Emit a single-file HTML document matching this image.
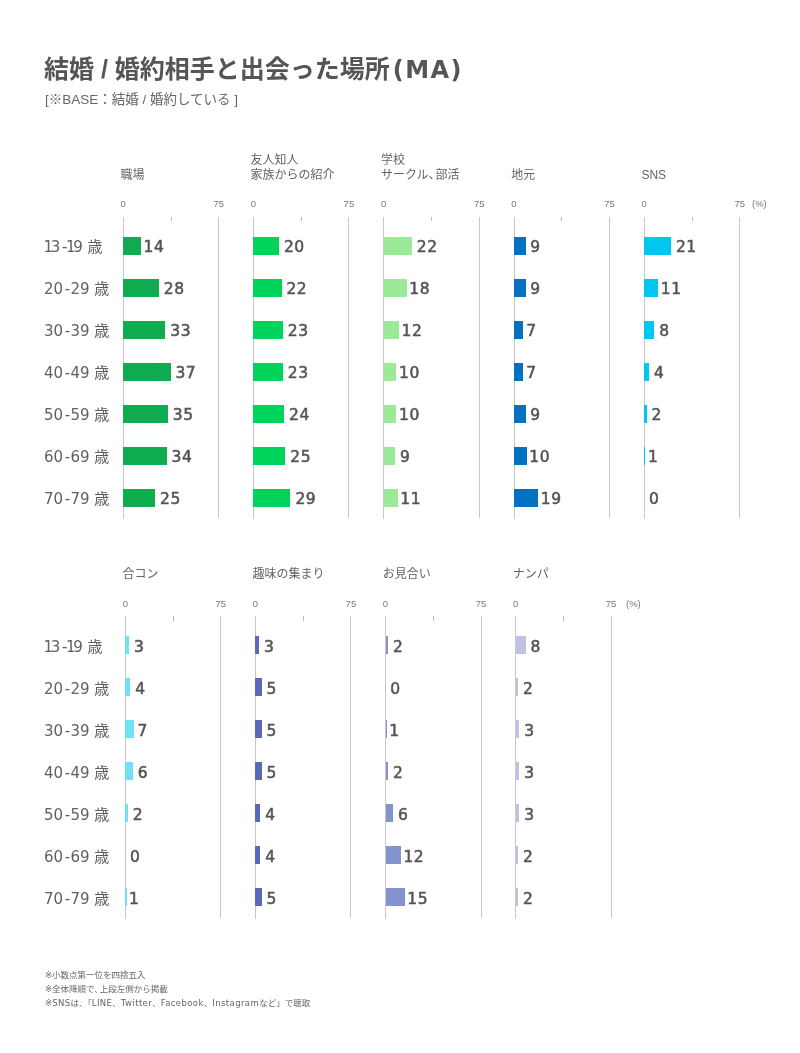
<!DOCTYPE html>
<html lang="ja"><head><meta charset="utf-8"><title>結婚 / 婚約相手と出会った場所（MA）</title>
<style>
html,body{margin:0;padding:0;background:#fff;}
body{width:800px;height:1053px;position:relative;overflow:hidden;font-family:"Liberation Sans", "Noto Sans CJK JP", sans-serif;color:#555;}
.wrap{position:absolute;left:0;top:0;width:800px;height:1053px;will-change:transform;background:transparent;}
.abs,.age,.ptitle,.axl,.vl,.tick,.bar,.val{position:absolute;}
h1{position:absolute;left:44px;top:54px;margin:0;font-size:25px;font-weight:700;color:#555;white-space:nowrap;line-height:1.2;}
.sub{position:absolute;left:45px;top:91.5px;font-size:13.5px;color:#666;white-space:nowrap;line-height:1.2;}
.age{left:44px;font-family:"DejaVu Sans","Noto Sans CJK JP",sans-serif;font-size:15px;line-height:20px;color:#606060;white-space:nowrap;}
.one{margin:0 -2.2px 0 -0.5px;}
.hy{margin:0 0.3px 0 1.6px;}
.ptitle{font-size:12px;line-height:14.5px;color:#636363;white-space:nowrap;}
.axl{width:20px;text-align:center;font-size:9.5px;line-height:11px;color:#777;}
.pct{width:auto;text-align:left;}
.vl{width:1px;background:#c8c8c8;}
.tick{width:1px;height:4.5px;background:#b8b8b8;}
.val{font-family:"DejaVu Sans",sans-serif;font-size:15.5px;font-weight:400;-webkit-text-stroke:0.55px #555;letter-spacing:0.6px;line-height:18.3px;color:#555;white-space:nowrap;}
.lt{letter-spacing:.4px;}
.notes{position:absolute;left:45px;top:967.5px;font-family:"DejaVu Sans","Noto Sans CJK JP",sans-serif;font-size:8.5px;line-height:14px;color:#666;white-space:nowrap;}
</style></head>
<body>
<div class="wrap">
<h1>結婚 / 婚約相手と出会った場所<span style="margin-left:3px;font-family:'DejaVu Sans',sans-serif;font-size:24px;letter-spacing:1.4px">(MA)</span></h1>
<div class="sub">[※BASE：結婚 / 婚約している ]</div>
<div class="age" style="top:237.0px"><span class=one>1</span>3<span class=hy>-</span><span class=one style="margin-left:-1.8px">1</span>9 歳</div>
<div class="age" style="top:279.0px">20<span class=hy>-</span>29 歳</div>
<div class="age" style="top:321.0px">30<span class=hy>-</span>39 歳</div>
<div class="age" style="top:363.0px">40<span class=hy>-</span>49 歳</div>
<div class="age" style="top:405.0px">50<span class=hy>-</span>59 歳</div>
<div class="age" style="top:447.0px">60<span class=hy>-</span>69 歳</div>
<div class="age" style="top:489.0px">70<span class=hy>-</span>79 歳</div>
<div class="ptitle" style="left:120.4px;top:167.5px">職場</div>
<div class="axl" style="left:113.2px;top:198.0px">0</div>
<div class="axl" style="left:208.7px;top:198.0px">75</div>
<div class="vl" style="left:122.7px;top:216.5px;height:302.5px"></div>
<div class="vl" style="left:218.2px;top:216.5px;height:301.5px"></div>
<div class="tick" style="left:170.5px;top:216.5px"></div>
<div class="bar" style="left:123.2px;top:236.5px;width:17.9px;height:18.3px;background:#10ad50"></div>
<div class="val" style="left:143.6px;top:238.1px">14</div>
<div class="bar" style="left:123.2px;top:278.5px;width:35.8px;height:18.3px;background:#10ad50"></div>
<div class="val" style="left:163.8px;top:280.1px">28</div>
<div class="bar" style="left:123.2px;top:320.5px;width:42.2px;height:18.3px;background:#10ad50"></div>
<div class="val" style="left:170.2px;top:322.1px">33</div>
<div class="bar" style="left:123.2px;top:362.5px;width:47.4px;height:18.3px;background:#10ad50"></div>
<div class="val" style="left:175.4px;top:364.1px">37</div>
<div class="bar" style="left:123.2px;top:404.5px;width:44.8px;height:18.3px;background:#10ad50"></div>
<div class="val" style="left:172.8px;top:406.1px">35</div>
<div class="bar" style="left:123.2px;top:446.5px;width:43.5px;height:18.3px;background:#10ad50"></div>
<div class="val" style="left:171.5px;top:448.1px">34</div>
<div class="bar" style="left:123.2px;top:488.5px;width:32.0px;height:18.3px;background:#10ad50"></div>
<div class="val" style="left:160.0px;top:490.1px">25</div>
<div class="ptitle" style="left:250.6px;top:153.0px">友人知人<br>家族からの紹介</div>
<div class="axl" style="left:243.4px;top:198.0px">0</div>
<div class="axl" style="left:338.9px;top:198.0px">75</div>
<div class="vl" style="left:252.9px;top:216.5px;height:302.5px"></div>
<div class="vl" style="left:348.4px;top:216.5px;height:301.5px"></div>
<div class="tick" style="left:300.8px;top:216.5px"></div>
<div class="bar" style="left:253.4px;top:236.5px;width:25.6px;height:18.3px;background:#00d45a"></div>
<div class="val" style="left:283.9px;top:238.1px">20</div>
<div class="bar" style="left:253.4px;top:278.5px;width:28.2px;height:18.3px;background:#00d45a"></div>
<div class="val" style="left:286.4px;top:280.1px">22</div>
<div class="bar" style="left:253.4px;top:320.5px;width:29.4px;height:18.3px;background:#00d45a"></div>
<div class="val" style="left:287.7px;top:322.1px">23</div>
<div class="bar" style="left:253.4px;top:362.5px;width:29.4px;height:18.3px;background:#00d45a"></div>
<div class="val" style="left:287.7px;top:364.1px">23</div>
<div class="bar" style="left:253.4px;top:404.5px;width:30.7px;height:18.3px;background:#00d45a"></div>
<div class="val" style="left:289.0px;top:406.1px">24</div>
<div class="bar" style="left:253.4px;top:446.5px;width:32.0px;height:18.3px;background:#00d45a"></div>
<div class="val" style="left:290.2px;top:448.1px">25</div>
<div class="bar" style="left:253.4px;top:488.5px;width:37.1px;height:18.3px;background:#00d45a"></div>
<div class="val" style="left:295.4px;top:490.1px">29</div>
<div class="ptitle" style="left:380.9px;top:153.0px">学校<br>サークル<span style="margin-right:-5px">、</span>部活</div>
<div class="axl" style="left:373.7px;top:198.0px">0</div>
<div class="axl" style="left:469.2px;top:198.0px">75</div>
<div class="vl" style="left:383.2px;top:216.5px;height:302.5px"></div>
<div class="vl" style="left:478.7px;top:216.5px;height:301.5px"></div>
<div class="tick" style="left:431.0px;top:216.5px"></div>
<div class="bar" style="left:383.7px;top:236.5px;width:28.2px;height:18.3px;background:#9aea98"></div>
<div class="val" style="left:416.7px;top:238.1px">22</div>
<div class="bar" style="left:383.7px;top:278.5px;width:23.0px;height:18.3px;background:#9aea98"></div>
<div class="val" style="left:409.2px;top:280.1px">18</div>
<div class="bar" style="left:383.7px;top:320.5px;width:15.4px;height:18.3px;background:#9aea98"></div>
<div class="val" style="left:401.6px;top:322.1px">12</div>
<div class="bar" style="left:383.7px;top:362.5px;width:12.8px;height:18.3px;background:#9aea98"></div>
<div class="val" style="left:399.0px;top:364.1px">10</div>
<div class="bar" style="left:383.7px;top:404.5px;width:12.8px;height:18.3px;background:#9aea98"></div>
<div class="val" style="left:399.0px;top:406.1px">10</div>
<div class="bar" style="left:383.7px;top:446.5px;width:11.5px;height:18.3px;background:#9aea98"></div>
<div class="val" style="left:400.0px;top:448.1px">9</div>
<div class="bar" style="left:383.7px;top:488.5px;width:14.1px;height:18.3px;background:#9aea98"></div>
<div class="val" style="left:400.3px;top:490.1px">11</div>
<div class="ptitle" style="left:511.2px;top:167.5px">地元</div>
<div class="axl" style="left:504.0px;top:198.0px">0</div>
<div class="axl" style="left:599.5px;top:198.0px">75</div>
<div class="vl" style="left:513.5px;top:216.5px;height:302.5px"></div>
<div class="vl" style="left:609.0px;top:216.5px;height:301.5px"></div>
<div class="tick" style="left:561.2px;top:216.5px"></div>
<div class="bar" style="left:514.0px;top:236.5px;width:11.5px;height:18.3px;background:#0370c0"></div>
<div class="val" style="left:530.3px;top:238.1px">9</div>
<div class="bar" style="left:514.0px;top:278.5px;width:11.5px;height:18.3px;background:#0370c0"></div>
<div class="val" style="left:530.3px;top:280.1px">9</div>
<div class="bar" style="left:514.0px;top:320.5px;width:9.0px;height:18.3px;background:#0370c0"></div>
<div class="val" style="left:526.2px;top:322.1px">7</div>
<div class="bar" style="left:514.0px;top:362.5px;width:9.0px;height:18.3px;background:#0370c0"></div>
<div class="val" style="left:526.2px;top:364.1px">7</div>
<div class="bar" style="left:514.0px;top:404.5px;width:11.5px;height:18.3px;background:#0370c0"></div>
<div class="val" style="left:530.3px;top:406.1px">9</div>
<div class="bar" style="left:514.0px;top:446.5px;width:12.8px;height:18.3px;background:#0370c0"></div>
<div class="val" style="left:529.2px;top:448.1px">10</div>
<div class="bar" style="left:514.0px;top:488.5px;width:24.3px;height:18.3px;background:#0370c0"></div>
<div class="val" style="left:540.8px;top:490.1px">19</div>
<div class="ptitle" style="left:641.4px;top:167.5px">SNS</div>
<div class="axl" style="left:634.2px;top:198.0px">0</div>
<div class="axl" style="left:729.7px;top:198.0px">75</div>
<div class="vl" style="left:643.7px;top:216.5px;height:302.5px"></div>
<div class="vl" style="left:739.2px;top:216.5px;height:301.5px"></div>
<div class="tick" style="left:691.5px;top:216.5px"></div>
<div class="bar" style="left:644.2px;top:236.5px;width:26.9px;height:18.3px;background:#00c6f0"></div>
<div class="val" style="left:675.9px;top:238.1px">21</div>
<div class="bar" style="left:644.2px;top:278.5px;width:14.1px;height:18.3px;background:#00c6f0"></div>
<div class="val" style="left:660.8px;top:280.1px">11</div>
<div class="bar" style="left:644.2px;top:320.5px;width:10.2px;height:18.3px;background:#00c6f0"></div>
<div class="val" style="left:659.2px;top:322.1px">8</div>
<div class="bar" style="left:644.2px;top:362.5px;width:5.1px;height:18.3px;background:#00c6f0"></div>
<div class="val" style="left:654.1px;top:364.1px">4</div>
<div class="bar" style="left:644.2px;top:404.5px;width:2.6px;height:18.3px;background:#00c6f0"></div>
<div class="val" style="left:651.6px;top:406.1px">2</div>
<div class="bar" style="left:644.2px;top:446.5px;width:1.3px;height:18.3px;background:#00c6f0"></div>
<div class="val" style="left:648.0px;top:448.1px">1</div>
<div class="val" style="left:649.0px;top:490.1px">0</div>
<div class="axl pct" style="left:752.0px;top:198.0px">(%)</div>
<div class="age" style="top:636.5px"><span class=one>1</span>3<span class=hy>-</span><span class=one style="margin-left:-1.8px">1</span>9 歳</div>
<div class="age" style="top:678.5px">20<span class=hy>-</span>29 歳</div>
<div class="age" style="top:720.5px">30<span class=hy>-</span>39 歳</div>
<div class="age" style="top:762.5px">40<span class=hy>-</span>49 歳</div>
<div class="age" style="top:804.5px">50<span class=hy>-</span>59 歳</div>
<div class="age" style="top:846.5px">60<span class=hy>-</span>69 歳</div>
<div class="age" style="top:888.5px">70<span class=hy>-</span>79 歳</div>
<div class="ptitle" style="left:122.5px;top:567.0px">合コン</div>
<div class="axl" style="left:115.3px;top:598.0px">0</div>
<div class="axl" style="left:210.8px;top:598.0px">75</div>
<div class="vl" style="left:124.8px;top:616.0px;height:302.5px"></div>
<div class="vl" style="left:220.3px;top:616.0px;height:301.5px"></div>
<div class="tick" style="left:172.6px;top:616.0px"></div>
<div class="bar" style="left:125.3px;top:636.0px;width:3.8px;height:18.3px;background:#70e2f5"></div>
<div class="val" style="left:133.9px;top:637.6px">3</div>
<div class="bar" style="left:125.3px;top:678.0px;width:5.1px;height:18.3px;background:#70e2f5"></div>
<div class="val" style="left:135.2px;top:679.6px">4</div>
<div class="bar" style="left:125.3px;top:720.0px;width:9.0px;height:18.3px;background:#70e2f5"></div>
<div class="val" style="left:137.6px;top:721.6px">7</div>
<div class="bar" style="left:125.3px;top:762.0px;width:7.7px;height:18.3px;background:#70e2f5"></div>
<div class="val" style="left:137.8px;top:763.6px">6</div>
<div class="bar" style="left:125.3px;top:804.0px;width:2.6px;height:18.3px;background:#70e2f5"></div>
<div class="val" style="left:132.7px;top:805.6px">2</div>
<div class="val" style="left:130.1px;top:847.6px">0</div>
<div class="bar" style="left:125.3px;top:888.0px;width:1.3px;height:18.3px;background:#70e2f5"></div>
<div class="val" style="left:129.1px;top:889.6px">1</div>
<div class="ptitle" style="left:252.6px;top:567.0px">趣味の集まり</div>
<div class="axl" style="left:245.4px;top:598.0px">0</div>
<div class="axl" style="left:340.9px;top:598.0px">75</div>
<div class="vl" style="left:254.9px;top:616.0px;height:302.5px"></div>
<div class="vl" style="left:350.4px;top:616.0px;height:301.5px"></div>
<div class="tick" style="left:302.7px;top:616.0px"></div>
<div class="bar" style="left:255.4px;top:636.0px;width:3.8px;height:18.3px;background:#5968b8"></div>
<div class="val" style="left:264.0px;top:637.6px">3</div>
<div class="bar" style="left:255.4px;top:678.0px;width:6.4px;height:18.3px;background:#5968b8"></div>
<div class="val" style="left:266.6px;top:679.6px">5</div>
<div class="bar" style="left:255.4px;top:720.0px;width:6.4px;height:18.3px;background:#5968b8"></div>
<div class="val" style="left:266.6px;top:721.6px">5</div>
<div class="bar" style="left:255.4px;top:762.0px;width:6.4px;height:18.3px;background:#5968b8"></div>
<div class="val" style="left:266.6px;top:763.6px">5</div>
<div class="bar" style="left:255.4px;top:804.0px;width:5.1px;height:18.3px;background:#5968b8"></div>
<div class="val" style="left:265.3px;top:805.6px">4</div>
<div class="bar" style="left:255.4px;top:846.0px;width:5.1px;height:18.3px;background:#5968b8"></div>
<div class="val" style="left:265.3px;top:847.6px">4</div>
<div class="bar" style="left:255.4px;top:888.0px;width:6.4px;height:18.3px;background:#5968b8"></div>
<div class="val" style="left:266.6px;top:889.6px">5</div>
<div class="ptitle" style="left:382.7px;top:567.0px">お見合い</div>
<div class="axl" style="left:375.5px;top:598.0px">0</div>
<div class="axl" style="left:471.0px;top:598.0px">75</div>
<div class="vl" style="left:385.0px;top:616.0px;height:302.5px"></div>
<div class="vl" style="left:480.5px;top:616.0px;height:301.5px"></div>
<div class="tick" style="left:432.8px;top:616.0px"></div>
<div class="bar" style="left:385.5px;top:636.0px;width:2.6px;height:18.3px;background:#8394cf"></div>
<div class="val" style="left:392.9px;top:637.6px">2</div>
<div class="val" style="left:390.3px;top:679.6px">0</div>
<div class="bar" style="left:385.5px;top:720.0px;width:1.3px;height:18.3px;background:#8394cf"></div>
<div class="val" style="left:389.3px;top:721.6px">1</div>
<div class="bar" style="left:385.5px;top:762.0px;width:2.6px;height:18.3px;background:#8394cf"></div>
<div class="val" style="left:392.9px;top:763.6px">2</div>
<div class="bar" style="left:385.5px;top:804.0px;width:7.7px;height:18.3px;background:#8394cf"></div>
<div class="val" style="left:398.0px;top:805.6px">6</div>
<div class="bar" style="left:385.5px;top:846.0px;width:15.4px;height:18.3px;background:#8394cf"></div>
<div class="val" style="left:403.4px;top:847.6px">12</div>
<div class="bar" style="left:385.5px;top:888.0px;width:19.2px;height:18.3px;background:#8394cf"></div>
<div class="val" style="left:407.2px;top:889.6px">15</div>
<div class="ptitle" style="left:512.8px;top:567.0px">ナンパ</div>
<div class="axl" style="left:505.6px;top:598.0px">0</div>
<div class="axl" style="left:601.1px;top:598.0px">75</div>
<div class="vl" style="left:515.1px;top:616.0px;height:302.5px"></div>
<div class="vl" style="left:610.6px;top:616.0px;height:301.5px"></div>
<div class="tick" style="left:562.9px;top:616.0px"></div>
<div class="bar" style="left:515.6px;top:636.0px;width:10.2px;height:18.3px;background:#bec2e7"></div>
<div class="val" style="left:530.6px;top:637.6px">8</div>
<div class="bar" style="left:515.6px;top:678.0px;width:2.6px;height:18.3px;background:#bec2e7"></div>
<div class="val" style="left:523.0px;top:679.6px">2</div>
<div class="bar" style="left:515.6px;top:720.0px;width:3.8px;height:18.3px;background:#bec2e7"></div>
<div class="val" style="left:524.2px;top:721.6px">3</div>
<div class="bar" style="left:515.6px;top:762.0px;width:3.8px;height:18.3px;background:#bec2e7"></div>
<div class="val" style="left:524.2px;top:763.6px">3</div>
<div class="bar" style="left:515.6px;top:804.0px;width:3.8px;height:18.3px;background:#bec2e7"></div>
<div class="val" style="left:524.2px;top:805.6px">3</div>
<div class="bar" style="left:515.6px;top:846.0px;width:2.6px;height:18.3px;background:#bec2e7"></div>
<div class="val" style="left:523.0px;top:847.6px">2</div>
<div class="bar" style="left:515.6px;top:888.0px;width:2.6px;height:18.3px;background:#bec2e7"></div>
<div class="val" style="left:523.0px;top:889.6px">2</div>
<div class="axl pct" style="left:626.0px;top:598.0px">(%)</div>
<div class="notes">※小数点第一位を四捨五入<br>※全体降順で<span style="margin-right:-3px">、</span>上段左側から掲載<br>※<span class=lt>SNS</span>は、「<span class=lt>LINE</span>、<span class=lt>Twitter</span>、<span class=lt>Facebook</span>、<span class=lt>Instagram</span>など」で聴取</div>
</div>
</body></html>
